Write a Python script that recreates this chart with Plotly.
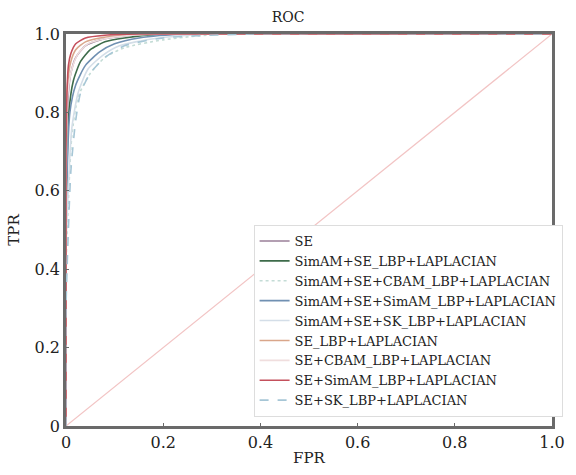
import plotly.graph_objects as go

names = ["SE", "SimAM+SE_LBP+LAPLACIAN", "SimAM+SE+CBAM_LBP+LAPLACIAN",
         "SimAM+SE+SimAM_LBP+LAPLACIAN", "SimAM+SE+SK_LBP+LAPLACIAN",
         "SE_LBP+LAPLACIAN", "SE+CBAM_LBP+LAPLACIAN", "SE+SimAM_LBP+LAPLACIAN",
         "SE+SK_LBP+LAPLACIAN"]

fpr_se = [0, 0, 0.005, 0.01, 0.02, 0.04, 0.07, 0.12, 0.2, 1]
tpr_se = [0, 0.6, 0.85, 0.9, 0.94, 0.97, 0.985, 0.995, 1, 1]
fpr_simam_se = [0, 0, 0.006, 0.015, 0.03, 0.05, 0.08, 0.12, 0.2, 1]
tpr_simam_se = [0, 0.5, 0.8, 0.88, 0.93, 0.96, 0.98, 0.99, 1, 1]
fpr_simam_cbam = [0, 0, 0.012, 0.025, 0.05, 0.08, 0.12, 0.2, 0.32, 1]
tpr_simam_cbam = [0, 0.4, 0.74, 0.84, 0.9, 0.94, 0.965, 0.985, 1, 1]
fpr_simam_simam = [0, 0, 0.008, 0.02, 0.04, 0.07, 0.1, 0.15, 0.25, 1]
tpr_simam_simam = [0, 0.5, 0.8, 0.87, 0.92, 0.955, 0.975, 0.99, 1, 1]
fpr_simam_sk = [0, 0, 0.012, 0.025, 0.045, 0.075, 0.11, 0.18, 0.3, 1]
tpr_simam_sk = [0, 0.45, 0.76, 0.85, 0.91, 0.945, 0.97, 0.988, 1, 1]
fpr_se_lbp = [0, 0, 0.003, 0.01, 0.02, 0.04, 0.07, 0.12, 0.18, 1]
tpr_se_lbp = [0, 0.65, 0.87, 0.93, 0.96, 0.98, 0.99, 0.997, 1, 1]
fpr_se_cbam = [0, 0, 0.004, 0.012, 0.025, 0.045, 0.08, 0.13, 0.2, 1]
tpr_se_cbam = [0, 0.6, 0.85, 0.91, 0.95, 0.975, 0.988, 0.996, 1, 1]
fpr_se_simam = [0, 0, 0.002, 0.005, 0.01, 0.02, 0.04, 0.08, 0.15, 1]
tpr_se_simam = [0, 0.7, 0.85, 0.92, 0.95, 0.975, 0.99, 0.997, 1, 1]
fpr_se_sk = [0, 0, 0.01, 0.02, 0.03, 0.05, 0.08, 0.12, 0.2, 0.38, 1]
tpr_se_sk = [0, 0.3, 0.65, 0.78, 0.85, 0.9, 0.94, 0.97, 0.99, 1, 1]

fprs = [fpr_se, fpr_simam_se, fpr_simam_cbam, fpr_simam_simam, fpr_simam_sk,
        fpr_se_lbp, fpr_se_cbam, fpr_se_simam, fpr_se_sk]
tprs = [tpr_se, tpr_simam_se, tpr_simam_cbam, tpr_simam_simam, tpr_simam_sk,
        tpr_se_lbp, tpr_se_cbam, tpr_se_simam, tpr_se_sk]

diag_x = [0, 1]
diag_y = [0, 1]

tick_vals = [0, 0.2, 0.4, 0.6, 0.8, 1.0]
tick_text = ["0", "0.2", "0.4", "0.6", "0.8", "1.0"]

colors = ["#9a7f99", "#3d6b4a", "#c4dcd6", "#7090b2", "#d4dee8",
          "#d9a68a", "#f0dede", "#c4505c", "#a6c6d6"]
dashes = ["solid", "solid", "dot", "solid", "solid",
          "solid", "solid", "solid", "dash"]

fig = go.Figure()
fig.add_trace(go.Scatter(x=diag_x, y=diag_y, mode="lines",
                         line=dict(color="#f2c4c4", width=1.2),
                         showlegend=False, hoverinfo="skip"))
for n, fx, ty, c, d in zip(names, fprs, tprs, colors, dashes):
    fig.add_trace(go.Scatter(x=fx, y=ty, mode="lines", name=n,
                             line=dict(color=c, width=1.6, dash=d, shape="spline", smoothing=0.6)))

serif = "DejaVu Serif"
axis_common = dict(range=[0, 1], tickvals=tick_vals, ticktext=tick_text,
                   showgrid=False, zeroline=False, showline=True, mirror=True,
                   linecolor="#6a6a6a", linewidth=2.5, ticks="inside", ticklen=3,
                   tickcolor="#6a6a6a", tickfont=dict(family=serif, size=16, color="#222"))

fig.update_layout(
    width=576, height=475,
    margin=dict(l=66, r=11, t=34, b=48),
    paper_bgcolor="white", plot_bgcolor="white",
    font=dict(family=serif),
    title=dict(text="ROC", x=0.5, xanchor="center", y=0.965, yanchor="middle",
               font=dict(family=serif, size=14, color="#222")),
    xaxis=dict(**axis_common, title=dict(text="FPR", standoff=2,
               font=dict(family=serif, size=15, color="#222"))),
    yaxis=dict(**axis_common, title=dict(text="TPR", standoff=12,
               font=dict(family=serif, size=15, color="#222"))),
    legend=dict(x=0.386, y=0.023, xanchor="left", yanchor="bottom",
                bgcolor="white", bordercolor="#dddddd", borderwidth=1,
                font=dict(family=serif, size=13, color="#222"),
                tracegroupgap=0),
    showlegend=True,
)

fig.write_html("out.html")
